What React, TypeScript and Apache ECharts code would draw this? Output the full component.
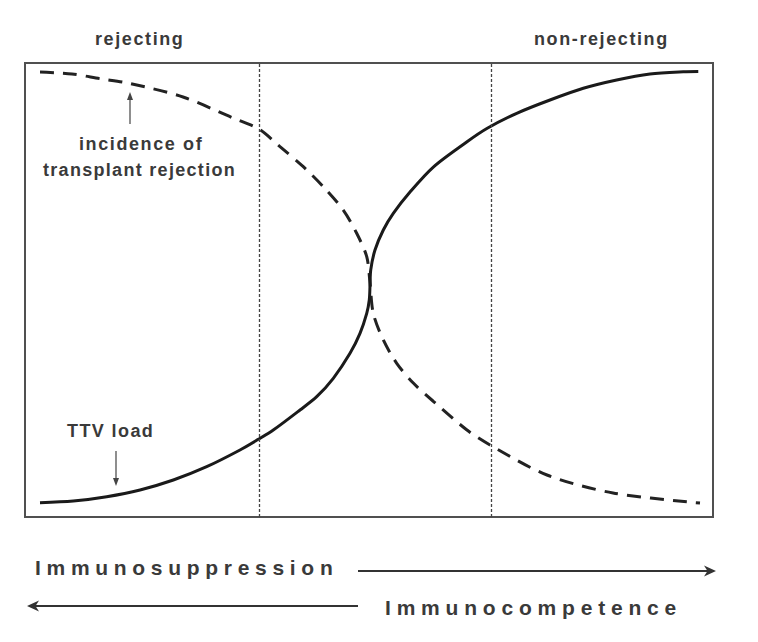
import React, { useEffect, useRef } from "react";
import * as echarts from "echarts";

// Curve data in chart units (x: 0-100 across the box, y: 0-100 bottom to top)
const ttvX = [2.18, 7.02, 11.88, 16.72, 21.56, 26.41, 31.25, 33.91, 36.09, 39.97, 42.4, 44.81, 47.24, 48.69, 49.67, 50.04, 50.15, 50.25, 50.87, 52.08, 53.53, 55.96, 59.35, 64.2, 67.19, 71.47, 76.31, 81.15, 86.0, 90.84, 95.68, 97.86];
const ttvY = [3.15, 3.52, 4.47, 5.95, 8.15, 11.08, 14.76, 17.11, 19.16, 23.57, 26.5, 30.55, 36.06, 40.46, 44.87, 47.8, 51.1, 54.41, 58.81, 63.22, 66.89, 71.59, 77.09, 82.6, 85.62, 88.92, 91.85, 94.43, 96.26, 97.58, 98.08, 98.13];

const rejX = [2.18, 6.83, 10.9, 15.26, 22.97, 30.23, 34.01, 37.06, 40.45, 43.36, 46.26, 48.21, 49.67, 50.15, 50.62, 52.08, 54.03, 56.44, 59.3, 64.24, 67.59, 75.87, 85.47, 98.11];
const rejY = [98.02, 97.58, 96.54, 95.48, 92.51, 87.89, 85.46, 81.56, 77.16, 72.75, 67.62, 62.49, 57.33, 51.54, 44.87, 38.99, 33.85, 29.5, 25.55, 19.16, 15.86, 9.25, 5.29, 3.08];

const dividers = [34.0, 67.7];

const topLabels = ["rejecting", "non-rejecting"];
const curveLabels = ["incidence of", "transplant rejection", "TTV load"];
const axisLabels = ["Immunosuppression", "Immunocompetence"];

const FONT = "'Liberation Sans', Arial, Helvetica, sans-serif";
const TXT = "#3a3a3a";

const spacing: Record<string, number> = {
  [topLabels[0]]: 1.6,
  [topLabels[1]]: 1.6,
  [curveLabels[0]]: 1.6,
  [curveLabels[1]]: 1.3,
  [curveLabels[2]]: 1.4,
  [axisLabels[0]]: 5.7,
  [axisLabels[1]]: 5.8,
};

function txt(text: string, x: number, y: number, size: number) {
  return {
    type: "text",
    x,
    y,
    silent: true,
    style: {
      text,
      fill: TXT,
      font: `bold ${size}px ${FONT}`,
      align: "left",
      verticalAlign: "middle",
    },
  };
}

function line(x1: number, y1: number, x2: number, y2: number, w: number, color = "#333") {
  return {
    type: "line",
    silent: true,
    shape: { x1, y1, x2, y2 },
    style: { stroke: color, lineWidth: w },
  };
}

function poly(points: number[][], color = "#333") {
  return {
    type: "polygon",
    silent: true,
    shape: { points },
    style: { fill: color },
  };
}

export default function App() {
  const ref = useRef<HTMLDivElement>(null);
  useEffect(() => {
    if (!ref.current) return;
    const chart = echarts.init(ref.current, undefined, { renderer: "svg" });
    const ttv = ttvX.map((x, i) => [x, ttvY[i]]);
    const rej = rejX.map((x, i) => [x, rejY[i]]);
    chart.setOption({
      animation: false,
      backgroundColor: "#ffffff",
      grid: {
        left: 25,
        top: 63,
        width: 688,
        height: 454,
        show: true,
        borderColor: "#505050",
        borderWidth: 2,
        backgroundColor: "transparent",
      },
      xAxis: { type: "value", min: 0, max: 100, show: false },
      yAxis: { type: "value", min: 0, max: 100, show: false },
      series: [
        {
          type: "line",
          name: "incidence of transplant rejection",
          data: rej,
          smooth: 0.3,
          symbol: "none",
          lineStyle: { color: "#222", width: 3, type: [14, 9] },
          markLine: {
            silent: true,
            symbol: ["none", "none"],
            label: { show: false },
            lineStyle: { color: "#444", width: 1.3, type: [3, 2] },
            data: dividers.map((d) => ({ xAxis: d })),
          },
          z: 2,
        },
        {
          type: "line",
          name: "TTV load",
          data: ttv,
          smooth: 0.3,
          symbol: "none",
          lineStyle: { color: "#1a1a1a", width: 3 },
          z: 3,
        },
      ],
      graphic: [
        txt(topLabels[0], 95, 38.7, 18),
        txt(topLabels[1], 534, 38.7, 18),
        txt(curveLabels[0], 79, 143.7, 18),
        txt(curveLabels[1], 43, 169.7, 18),
        txt(curveLabels[2], 67, 430.7, 18),
        txt(axisLabels[0], 35, 567.6, 21),
        txt(axisLabels[1], 385, 607.6, 21),
        // small arrows
        line(130, 124, 130, 98, 1.2, "#444"),
        poly([[130, 92], [127, 100], [133, 100]], "#444"),
        line(116, 451, 116, 479, 1.2, "#444"),
        poly([[116, 486], [113, 478], [119, 478]], "#444"),
        // big arrows
        line(358, 571, 708, 571, 2.2),
        poly([[716, 571], [704, 565.5], [707.5, 571], [704, 576.5]]),
        line(35, 606, 358, 606, 2.2),
        poly([[27, 606], [39, 600.5], [35.5, 606], [39, 611.5]]),
      ],
    });
    const applySpacing = () => {
      const el = ref.current;
      if (!el) return;
      el.querySelectorAll("text").forEach((t) => {
        const s = spacing[(t.textContent || "").trim()];
        if (s !== undefined) t.setAttribute("letter-spacing", String(s));
      });
    };
    applySpacing();
    chart.on("finished", applySpacing);
    const timer = setTimeout(applySpacing, 50);
    return () => {
      clearTimeout(timer);
      chart.dispose();
    };
  }, []);
  return (
    <div
      ref={ref}
      style={{ position: "fixed", left: 0, top: 0, width: 758, height: 642, background: "#fff" }}
    />
  );
}
